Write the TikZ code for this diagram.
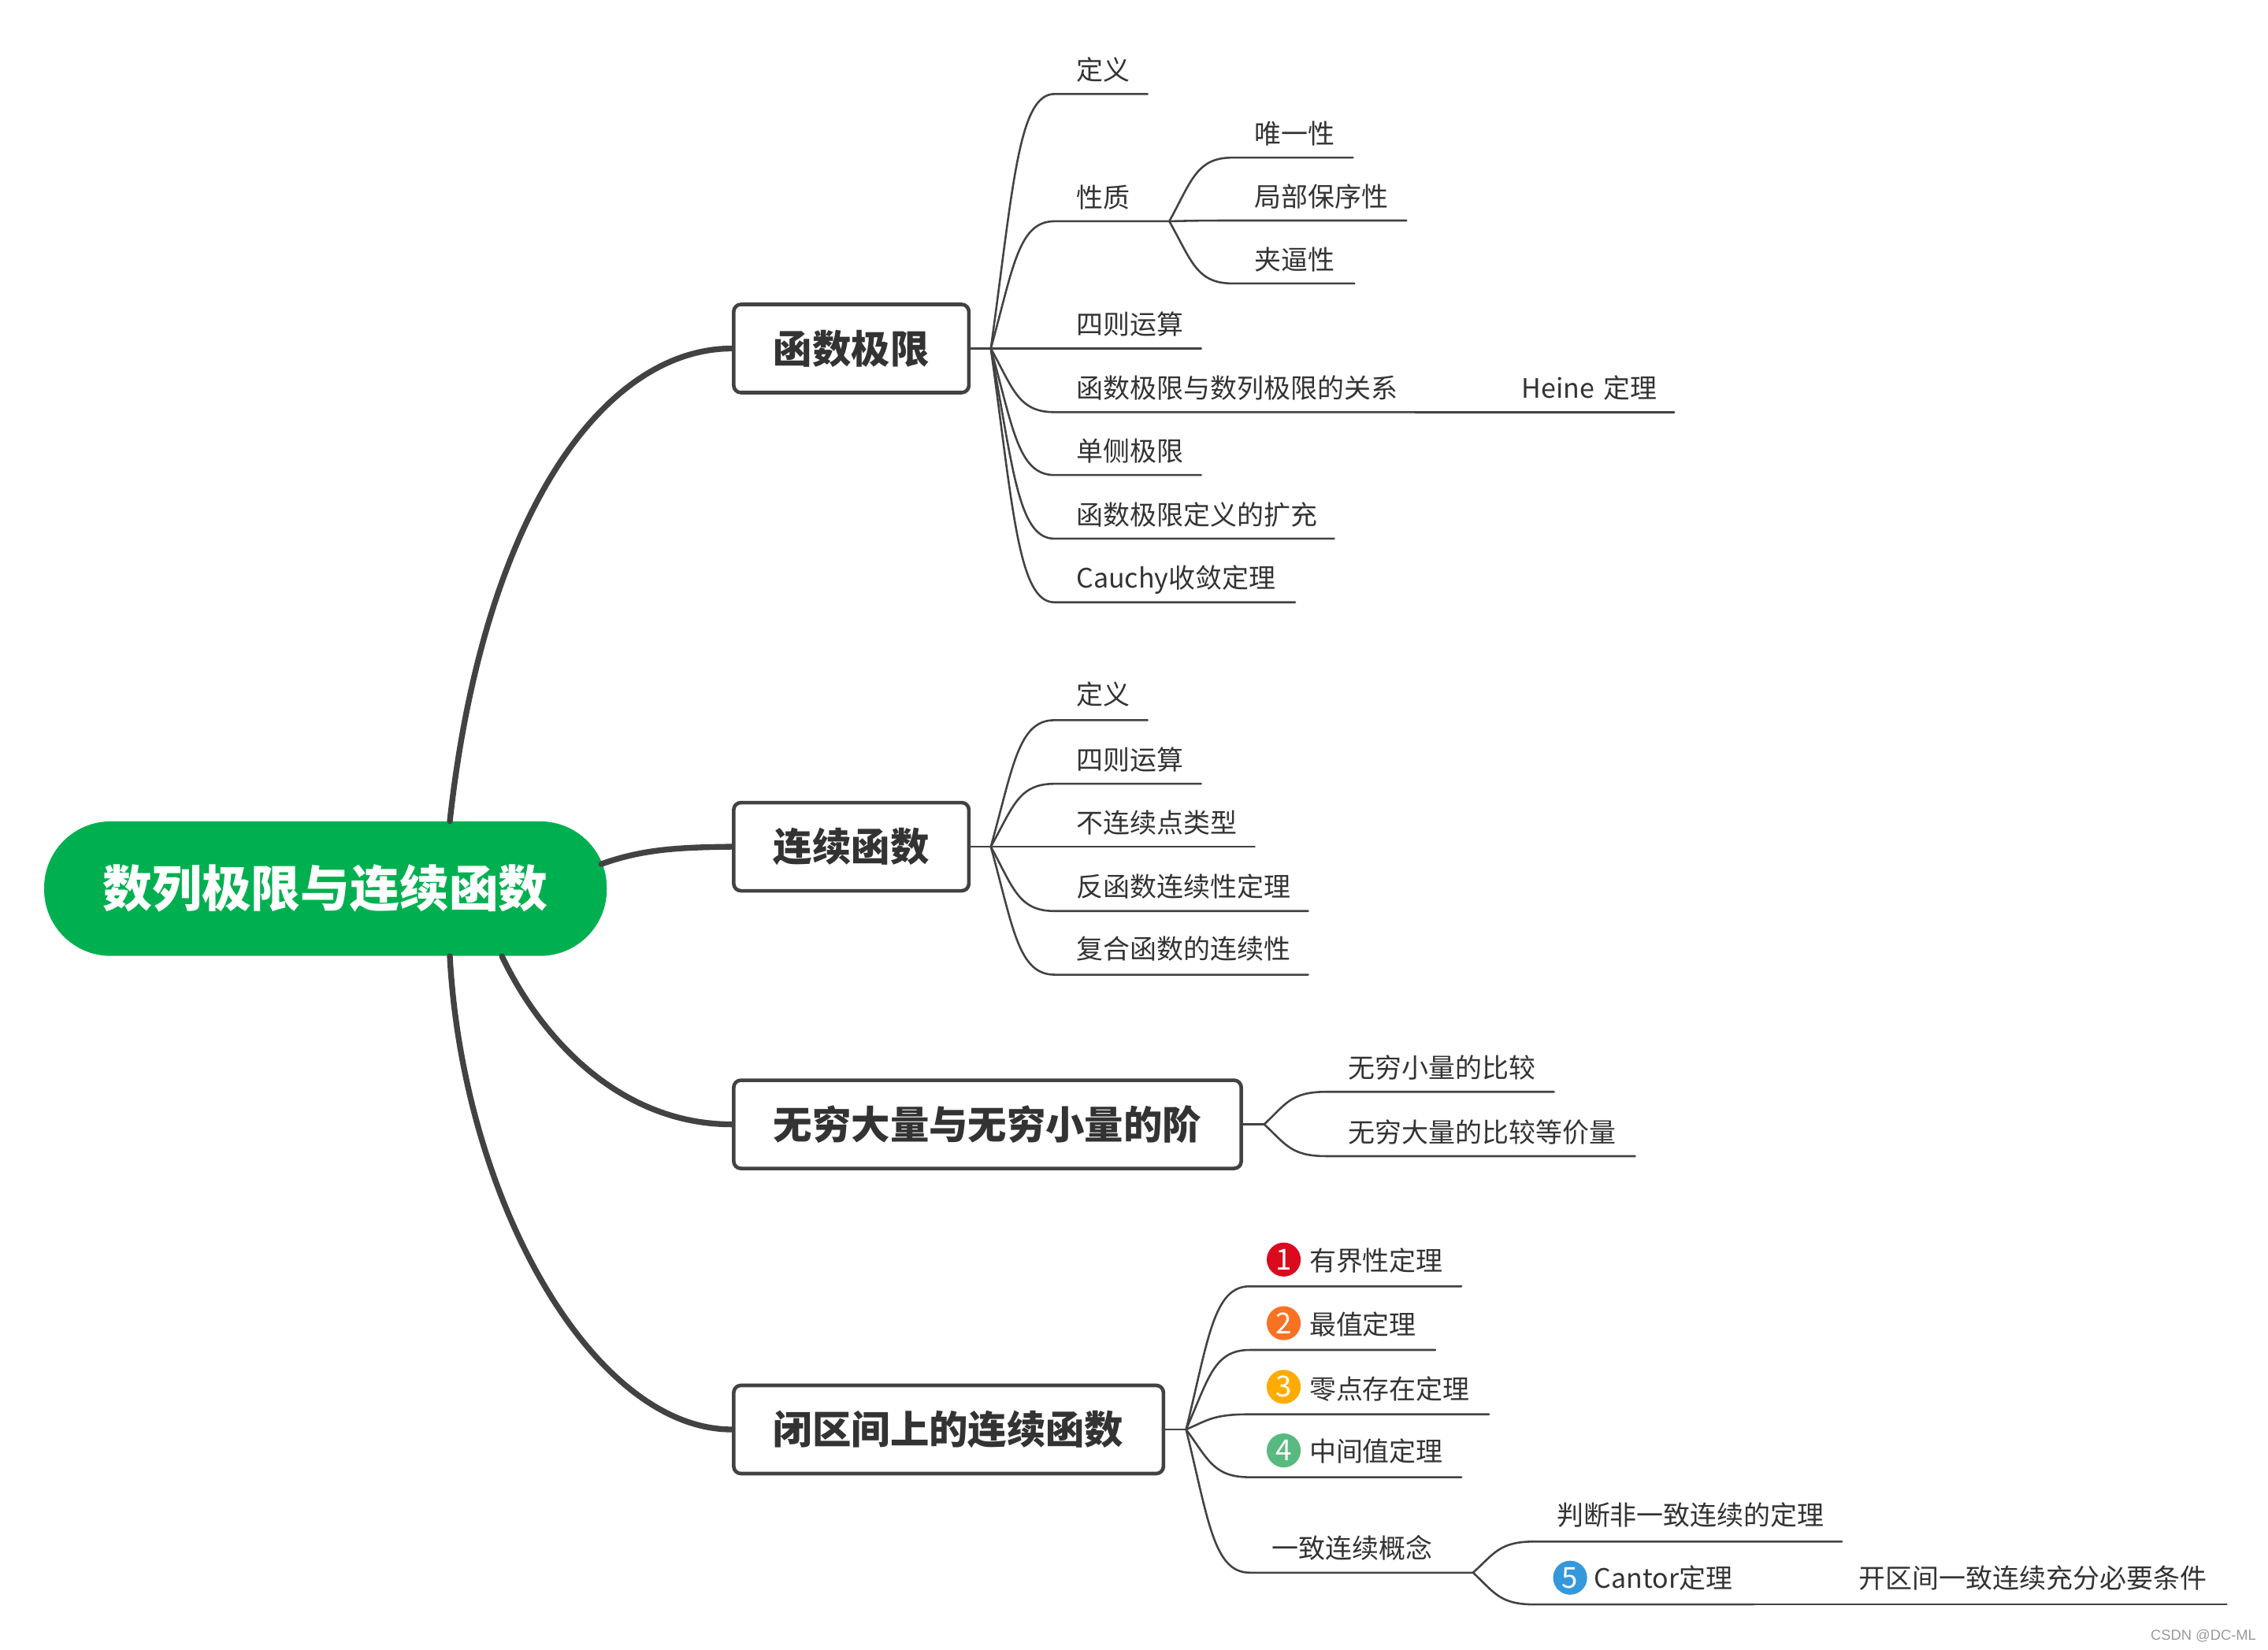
\documentclass[tikz,border=0pt]{standalone}
\usepackage{fontspec}
\setmainfont{Noto Sans CJK SC}
\newfontfamily\wmfont{Liberation Sans}
\usepackage{xcolor}
\usetikzlibrary{calc}
\usetikzlibrary{positioning}
\definecolor{inkline}{HTML}{424242}
\definecolor{inktext}{HTML}{333333}
\definecolor{rootgreen}{HTML}{00B050}
\definecolor{bred}{HTML}{DB0A1E}
\definecolor{borange}{HTML}{F97224}
\definecolor{byellow}{HTML}{FFAC00}
\definecolor{bgreen}{HTML}{58BA80}
\definecolor{bblue}{HTML}{3498DB}
\tikzset{
  rootnode/.style={fill=rootgreen,text=white,rounded corners=46pt,minimum width=389pt,minimum height=93pt,font=\fontsize{34.2}{40}\selectfont\bfseries},
  topic/.style={draw=inkline,fill=white,line width=2.5pt,rounded corners=5pt,anchor=west,inner xsep=27.5pt,minimum height=61pt,text=inktext,font=\fontsize{26.9}{32}\selectfont\bfseries},
  leaf/.style={anchor=south west,inner xsep=0pt,inner ysep=9.5pt,text depth=0pt,text width=#1,align=left,text=inktext,font=\fontsize{18.5}{22}\selectfont,execute at begin node=\hspace*{15pt}},
  leafm/.style={leaf=#1,inner ysep=10.5pt,execute at begin node=\hspace*{26pt}},
  badge/.style={circle,inner sep=0pt,minimum size=23.5pt,text=white,font=\fontsize{20}{22}\selectfont},
  branch/.style={draw=inkline,line width=4pt},
  twigline/.style={draw=inkline,line width=1.4pt}
}
\newcommand{\twig}[2]{\draw[twigline] let \p1=(#1),\p2=(#2.south west) in (\p1) .. controls ({\x1+0.35*(\x2-\x1)},{\y1+0.63*(\y2-\y1)}) and ({\x1+0.43*(\x2-\x1)},\y2) .. (\p2) -- (#2.south east);}
\begin{document}
\begin{tikzpicture}[line cap=round,line join=round,x=1pt,y=-1pt]
\useasboundingbox (0,0) rectangle (1568,1140.5);
\node[rootnode] (root) at (225,614.5) {数列极限与连续函数};
\node[topic] (fb) at (506,241) {函数极限};
\node[topic] (cf) at (506,585.5) {连续函数};
\node[topic] (wq) at (506,777.5) {无穷大量与无穷小量的阶};
\node[topic] (bq) at (506,988.5) {闭区间上的连续函数};
\draw[branch] ([xshift=86pt]root.north) .. controls (335,350) and (420,241) .. (fb.west);
\draw[branch] ([xshift=-4pt,yshift=17pt]root.east) .. controls (445,587) and (470,586) .. (cf.west);
\draw[branch] ([xshift=122pt]root.south) .. controls (375,720) and (430,777.5) .. (wq.west);
\draw[branch] ([xshift=86pt]root.south) .. controls (320,830) and (410,988.5) .. (bq.west);

\coordinate (j1) at (685,241);
\draw[twigline] (fb.east) -- (j1);
\node[leaf=64pt] (fa) at (729,65) {定义};
\node[leaf=79pt] (fb2) at (729,153) {性质};
\node[leaf=101pt] (fc) at (729,241) {四则运算};
\node[leaf=249pt] (fd) at (729,285) {函数极限与数列极限的关系};
\node[leaf=101pt] (fe) at (729,328.5) {单侧极限};
\node[leaf=193pt] (ff) at (729,372.5) {函数极限定义的扩充};
\node[leaf=166pt] (fg) at (729,416.5) {Cauchy收敛定理};
\node[leaf=120pt] (he) at (1037,285) {Heine 定理};
\twig{j1}{fa}
\twig{j1}{fb2}
\twig{j1}{fc}
\twig{j1}{fd}
\twig{j1}{fe}
\twig{j1}{ff}
\twig{j1}{fg}
\draw[twigline] (fd.south east) -- (he.south west) -- (he.south east);
\node[leaf=83pt] (pa) at (852,109) {唯一性};
\node[leaf=120pt] (pb) at (852,152.5) {局部保序性};
\node[leaf=84pt] (pc) at (852,196) {夹逼性};
\twig{fb2.south east}{pa}
\twig{fb2.south east}{pb}
\twig{fb2.south east}{pc}

\coordinate (j2) at (685,585.5);
\draw[twigline] (cf.east) -- (j2);
\node[leaf=64pt,inner ysep=10.5pt] (ca) at (729,498) {定义};
\node[leaf=101pt] (cb) at (729,542) {四则运算};
\node[leaf=138pt] (cc) at (729,585.5) {不连续点类型};
\node[leaf=175pt] (cd) at (729,630) {反函数连续性定理};
\node[leaf=175pt,inner ysep=10.5pt] (ce) at (729,674) {复合函数的连续性};
\twig{j2}{ca}
\twig{j2}{cb}
\twig{j2}{cc}
\twig{j2}{cd}
\twig{j2}{ce}

\coordinate (j3) at (874,777.5);
\draw[twigline] (wq.east) -- (j3);
\node[leaf=157pt] (wa) at (917,755) {无穷小量的比较};
\node[leaf=213pt] (wb) at (917,799.5) {无穷大量的比较等价量};
\twig{j3}{wa}
\twig{j3}{wb}

\coordinate (j4) at (820,988.5);
\draw[twigline] (bq.east) -- (j4);
\node[leafm=146pt] (ba) at (864,889.5) {有界性定理};
\node[leafm=128pt] (bb) at (864,933.5) {最值定理};
\node[leafm=165pt] (bc) at (864,978) {零点存在定理};
\node[leafm=146pt] (bd) at (864,1021.5) {中间值定理};
\node[leaf=154pt] (be) at (864,1087.5) {一致连续概念};
\twig{j4}{ba}
\twig{j4}{bb}
\twig{j4}{bc}
\twig{j4}{bd}
\twig{j4}{be}
\node[leaf=212pt,inner ysep=11pt] (ua) at (1061,1066) {判断非一致连续的定理};
\node[leafm=151pt,inner ysep=11pt] (ub) at (1061,1109.5) {\mbox{Cantor}定理};
\node[leaf=269pt,inner ysep=11pt] (uc) at (1270,1109.5) {开区间一致连续充分必要条件};
\twig{be.south east}{ua}
\twig{be.south east}{ub}
\draw[twigline] (ub.south east) -- (uc.south west) -- (uc.south east);

\node[badge,fill=bred] (m1) at (887.5,871) {1};
\node[badge,fill=borange] (m2) at (887.5,915) {2};
\node[badge,fill=byellow] (m3) at (887.5,959) {3};
\node[badge,fill=bgreen] (m4) at (887.5,1003) {4};
\node[badge,fill=bblue] (m5) at (1085.5,1091) {5};
\node[anchor=east,inner sep=0pt,text=gray!80,font=\wmfont\fontsize{10}{12}\selectfont] (wm) at (1560,1131) {CSDN @DC-ML};
\end{tikzpicture}
\end{document}
